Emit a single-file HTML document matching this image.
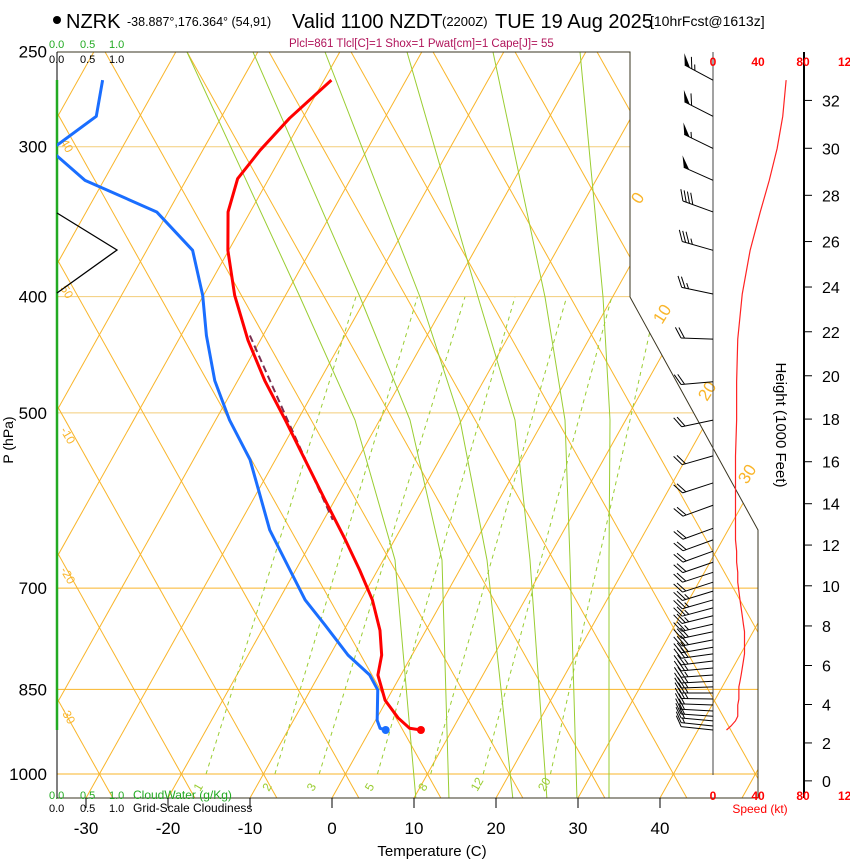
<!DOCTYPE html>
<html><head><meta charset="utf-8"><title>NZRK Skew-T</title>
<style>
html,body{margin:0;padding:0;background:#fff;}
svg{display:block;font-family:"Liberation Sans",Arial,sans-serif;}
</style></head>
<body>
<svg id="chart" width="850" height="860" viewBox="0 0 850 860" xmlns="http://www.w3.org/2000/svg">
<defs>
<clipPath id="plotclip"><polygon points="57,52 630,52 630,297 758,530 758,798 57,798"/></clipPath>
</defs>
<g>
<circle cx="57" cy="20" r="4" fill="#000"/>
<text x="66" y="28" font-size="20">NZRK</text>
<text x="127" y="26" font-size="12.5">-38.887°,176.364° (54,91)</text>
<text x="292" y="28" font-size="20">Valid 1100 NZDT</text>
<text x="442" y="26" font-size="13">(2200Z)</text>
<text x="495" y="28" font-size="20">TUE 19 Aug 2025</text>
<text x="650" y="26" font-size="14">[10hrFcst@1613z]</text>
</g>
<text x="289" y="47" font-size="11.5" fill="#b0145a">Plcl=861 Tlcl[C]=1 Shox=1 Pwat[cm]=1 Cape[J]= 55</text>
<g id="bg" clip-path="url(#plotclip)"></g>
<g id="fg"></g>
</svg>
<script>
// ---------- data ----------
var tempP = [264,284,302,319,340,366,399,435,470,507,547,591,638,676,716,759,796,827,868,898,916,919];
var tempT = [-49.1,-51.6,-53.0,-53.8,-52.7,-50.1,-46.2,-41.5,-36.7,-31.5,-26.4,-21.2,-16.0,-12.2,-8.6,-5.6,-3.7,-2.8,-0.2,2.6,4.7,6.2];
var dewP = [264,283,299,302,305,320,340,366,399,431,470,507,547,626,676,716,751,796,827,851,902,916,919];
var dewT = [-77.0,-75.3,-78.1,-79.3,-77.5,-72.3,-61.4,-54.4,-50.1,-46.9,-42.8,-38.3,-33.1,-25.9,-20.7,-16.8,-12.7,-7.8,-3.8,-1.8,0.2,1.1,1.9];
var parcelP = [431,512,614];
var parcelT = [-41.6,-30.6,-18.9];
var windP = [264,283,301,320,340,366,398,434,471,507,543,572,597,624,638,652,666,679,692,704,716,727,738,750,761,773,784,794,805,816,827,837,846,856,866,876,886,895,903,912,919];
var windSpd = [65,62,57,50,42,33,26,22,21,21,20,20,20,20,20,21,21,22,22,23,24,25,26,27,28,28,28,28,27,26,25,24,23,23,23,22,22,22,20,16,12];
var windDir = [298,297,296,294,290,286,282,272,265,258,254,252,250,250,250,250,251,252,252,253,254,255,256,257,258,259,260,262,263,265,266,267,268,270,271,272,273,274,275,276,276];
var pTicks = [250,300,400,500,700,850,1000];
var tTicks = [-30,-20,-10,0,10,20,30,40];
var hTicks = [0,2,4,6,8,10,12,14,16,18,20,22,24,26,28,30,32];
var spdTicks = [0,40,80,120];
var mixRatios = ["1","2","3","5","8","12","20"];
var mixBottomT = [-17.0,-8.6,-3.2,3.9,10.4,16.8,25.0];
var mixTopT = [-31.3,-23.8,-18.0,-11.9,-5.6,-0.1,5.5];

// ---------- axes ----------
var NS="http://www.w3.org/2000/svg";
var SKEW=0.56;
function yP(p){return 774-521*Math.log(1000/p);}
function xT(t,y){return 332+8.2*t+SKEW*(798-y);}
function xS(s){return 713+s*1.125;}
function hToP(kft){return 1013.25*Math.pow(1-6.8756e-6*kft*1000,5.2559);}
function mk(tag,attrs,parent){var e=document.createElementNS(NS,tag);for(var k in attrs)e.setAttribute(k,attrs[k]);parent.appendChild(e);return e;}
var bg=document.getElementById('bg'), fg=document.getElementById('fg');
var ORANGE="#f9b52a", GREEN="#9acd32";

// isobars
pTicks.slice(1).forEach(function(p){
  var y=yP(p);
  var l=mk('line',{x1:57,x2:760,y1:y,y2:y,stroke:(p<=500?"#f3cd7a":ORANGE),'stroke-width':1},bg);
  
  
});
// isotherms (up-right)
for(var t=-120;t<=60;t+=10){
  var l=mk('line',{x1:xT(t,798),y1:798,x2:xT(t,52),y2:52,stroke:ORANGE,'stroke-width':1},bg);
  
  
}
// adiabat-like lines (up-left)
for(var k=-5;k<=14;k++){
  var x0=332+2*SKEW*24+82*k - 82*0 + 0;
  x0=345.4+SKEW*24+82*k;
  var l=mk('line',{x1:x0,y1:798,x2:x0-SKEW*746,y2:52,stroke:ORANGE,'stroke-width':1},bg);
  
  
}
// moist adiabats
var maYs=[52,297,420,560,800];
var maXs=[[580,603,610,609,609],[493,545,565,570,577],[407,478,515,530,547],[325,420,460,487,513],[253,360,410,442,449],[187,300,355,395,416]];
maXs.forEach(function(xs){
  var pts=xs.map(function(x,i){return x+','+maYs[i];}).join(' ');
  var l=mk('polyline',{points:pts,fill:'none',stroke:GREEN,'stroke-width':1},bg);
  
  
});
// mixing ratio lines
mixRatios.forEach(function(m,i){
  var yb=774,yt=297;
  var l=mk('line',{x1:xT(mixBottomT[i],yb),y1:yb,x2:xT(mixTopT[i],yt),y2:yt,stroke:GREEN,'stroke-width':1,'stroke-dasharray':'4,4'},bg);
  
  
  var lx=xT(mixBottomT[i],yb)-6, ly=792;
  var tx=mk('text',{x:lx,y:ly,'font-size':12,fill:GREEN,transform:'rotate(-60 '+lx+' '+ly+')'},fg);
  tx.textContent=m;
  
  
});
// isotherm labels right
[[0,640,205],[10,662,325],[20,707,402],[30,747,485]].forEach(function(a){
  var tx=mk('text',{x:a[1],y:a[2],'font-size':17,fill:ORANGE,transform:'rotate(-58 '+a[1]+' '+a[2]+')'},fg);
  tx.textContent=a[0];
  
  
});
[["40",60,142],["50",60,288],["-10",60,430],["-20",60,570],["-30",60,710]].forEach(function(a){
  var tx=mk('text',{x:a[1],y:a[2],'font-size':12,fill:ORANGE,transform:'rotate(60 '+a[1]+' '+a[2]+')'},fg);
  tx.textContent=a[0];
  
  
});

// frame
var fr=mk('polyline',{points:"57,52 630,52 630,297 758,530 758,798 57,798",fill:'none',stroke:'#3a3520','stroke-width':1},fg);


var la=mk('line',{x1:57,y1:52,x2:57,y2:798,stroke:'#000','stroke-width':1},fg);


var cw=mk('line',{x1:57,y1:80,x2:57,y2:730,stroke:'#22aa22','stroke-width':2.5},fg);


var cl=mk('polyline',{points:"57,213 117,250 57,293",fill:'none',stroke:'#000','stroke-width':1.3},fg);



// cloud scale labels
[["0.0",49],["0.5",80],["1.0",109]].forEach(function(a){
  [[48,'#22aa22'],[63,'#000'],[799,'#22aa22'],[812,'#000']].forEach(function(b){
    var tx=mk('text',{x:a[1],y:b[0],'font-size':11,fill:b[1]},fg);
    tx.textContent=a[0];
    
    
  });
});
var t1=mk('text',{x:133,y:799,'font-size':12,fill:'#22aa22'},fg);t1.textContent="CloudWater (g/Kg)";


var t2=mk('text',{x:133,y:812,'font-size':12,fill:'#000'},fg);t2.textContent="Grid-Scale Cloudiness";



// pressure labels
pTicks.forEach(function(p){
  var tx=mk('text',{x:47,y:yP(p)+6,'font-size':17,'text-anchor':'end'},fg);
  tx.textContent=p;
  
  
});
var pt=mk('text',{x:13,y:440,'font-size':14,'text-anchor':'middle',transform:'rotate(-90 13 440)'},fg);
pt.textContent="P (hPa)";



// temperature ticks
tTicks.forEach(function(t){
  var x=xT(t,798);
  var tk=mk('line',{x1:x,x2:x,y1:798,y2:808,stroke:'#000'},fg);
  
  
  var tx=mk('text',{x:x,y:834,'font-size':17,'text-anchor':'middle'},fg);
  tx.textContent=t;
  
  
});
var xt=mk('text',{x:432,y:856,'font-size':15,'text-anchor':'middle'},fg);
xt.textContent="Temperature (C)";



// height axis
var ha=mk('line',{x1:804,x2:804,y1:52,y2:798,stroke:'#000','stroke-width':2},fg);


hTicks.forEach(function(h){
  var y=yP(hToP(h));
  var tk=mk('line',{x1:804,x2:812,y1:y,y2:y,stroke:'#000'},fg);
  
  
  var tx=mk('text',{x:822,y:y+6,'font-size':16},fg);
  tx.textContent=h;
  
  
});
var ht=mk('text',{x:776,y:425,'font-size':15,'text-anchor':'middle',transform:'rotate(90 776 425)'},fg);
ht.textContent="Height (1000 Feet)";



// speed axis
var sa=mk('line',{x1:713,x2:713,y1:52,y2:775,stroke:'#444','stroke-width':1},fg);


spdTicks.forEach(function(s){
  [66,800].forEach(function(y){
    var tx=mk('text',{x:xS(s),y:y,'font-size':12,'font-weight':'bold',fill:'#f00','text-anchor':'middle'},fg);
    tx.textContent=s;
    
    
  });
});
var st=mk('text',{x:760,y:813,'font-size':12,fill:'#f00','text-anchor':'middle'},fg);
st.textContent="Speed (kt)";



// speed profile
var sp=mk('polyline',{points:windP.map(function(p,i){return xS(windSpd[i])+','+yP(p);}).join(' '),fill:'none',stroke:'#f22','stroke-width':1.2},fg);



// wind barbs
windP.forEach(function(p,i){
  var y=yP(p), d=windDir[i]*Math.PI/180;
  var vx=Math.sin(d), vy=-Math.cos(d), L=32;
  var tx=713+vx*L, ty=y+vy*L;
  var g=mk('g',{},fg);
  
  
  mk('line',{x1:713,y1:y,x2:tx,y2:ty,stroke:'#000','stroke-width':1},g);
  var c=Math.cos(Math.PI/3), s=Math.sin(Math.PI/3);
  var fx=(vx*c-vy*s)*12, fy=(vx*s+vy*c)*12;
  var spd=Math.round(windSpd[i]/5)*5, pos=0;
  while(spd>=50){
    var ax=tx-vx*pos, ay=ty-vy*pos, bx=tx-vx*(pos+6), by=ty-vy*(pos+6);
    mk('polygon',{points:ax+','+ay+' '+(ax+fx)+','+(ay+fy)+' '+bx+','+by,fill:'#000'},g);
    pos+=8; spd-=50;
  }
  while(spd>=10){
    var ax=tx-vx*pos, ay=ty-vy*pos;
    mk('line',{x1:ax,y1:ay,x2:ax+fx,y2:ay+fy,stroke:'#000','stroke-width':1},g);
    pos+=3.5; spd-=10;
  }
  if(spd>=5){
    if(pos===0)pos=3.5;
    var ax=tx-vx*pos, ay=ty-vy*pos;
    mk('line',{x1:ax,y1:ay,x2:ax+fx/2,y2:ay+fy/2,stroke:'#000','stroke-width':1},g);
  }
});

// parcel path
var pp=mk('polyline',{points:parcelP.map(function(p,i){var y=yP(p);return xT(parcelT[i],y)+','+y;}).join(' '),fill:'none',stroke:'#7a3050','stroke-width':2,'stroke-dasharray':'7,4'},fg);



// dewpoint & temperature
var dg=mk('g',{'clip-path':'url(#plotclip)'},fg);
var dl=mk('polyline',{points:dewP.map(function(p,i){var y=yP(p);return xT(dewT[i],y)+','+y;}).join(' '),fill:'none',stroke:'#1a6eff','stroke-width':3,'stroke-linejoin':'round'},dg);


var tl=mk('polyline',{points:tempP.map(function(p,i){var y=yP(p);return xT(tempT[i],y)+','+y;}).join(' '),fill:'none',stroke:'#f00','stroke-width':3,'stroke-linejoin':'round'},fg);


var n=dewP.length-1, yd=yP(dewP[n]);
var dd=mk('circle',{cx:xT(dewT[n],yd),cy:yd,r:4,fill:'#1a6eff'},fg);


var m=tempP.length-1, ys=yP(tempP[m]);
var td=mk('circle',{cx:xT(tempT[m],ys),cy:ys,r:4,fill:'#f00'},fg);


</script>
</body></html>
